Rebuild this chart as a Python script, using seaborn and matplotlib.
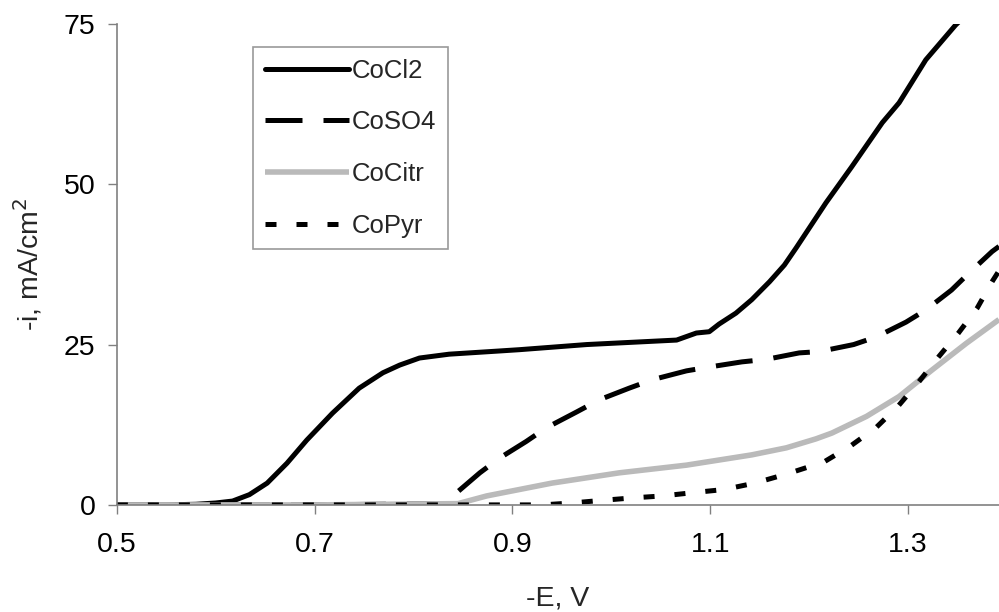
import matplotlib
matplotlib.use("Agg")
import matplotlib.pyplot as plt
import seaborn as sns
import pandas as pd

# Cathodic polarization curves for cobalt electrolytes
cocl2_E = [0.50, 0.55, 0.58, 0.60, 0.617, 0.634, 0.652, 0.672, 0.692, 0.718,
           0.745, 0.769, 0.786, 0.806, 0.836, 0.887, 0.907, 0.975, 1.066, 1.086,
           1.099, 1.109, 1.126, 1.142, 1.160, 1.175, 1.187, 1.217, 1.243, 1.274,
           1.291, 1.318, 1.348, 1.356]
cocl2_i = [0.0, 0.0, 0.1, 0.3, 0.6, 1.6, 3.4, 6.5, 10.1, 14.3,
           18.2, 20.6, 21.8, 22.9, 23.5, 24.0, 24.2, 25.0, 25.7, 26.8,
           27.0, 28.2, 29.9, 32.0, 34.8, 37.4, 40.1, 47.1, 52.7, 59.6,
           62.7, 69.4, 74.8, 76.0]

coso4_E = [0.50, 0.70, 0.835, 0.839, 0.867, 0.887, 0.914, 0.934, 0.965, 0.988,
           1.018, 1.041, 1.076, 1.099, 1.132, 1.157, 1.190, 1.210, 1.245, 1.268,
           1.298, 1.318, 1.344, 1.362, 1.385, 1.392]
coso4_i = [0.0, 0.0, 0.2, 1.3, 5.0, 7.3, 9.9, 12.0, 14.5, 16.4,
           18.2, 19.5, 20.9, 21.5, 22.3, 22.7, 23.7, 23.9, 25.0, 26.2,
           28.5, 30.4, 33.5, 36.2, 39.5, 40.3]

cocitr_E = [0.50, 0.70, 0.845, 0.874, 0.940, 1.008, 1.076, 1.142, 1.177, 1.207,
            1.223, 1.258, 1.291, 1.324, 1.359, 1.392]
cocitr_i = [0.0, 0.0, 0.2, 1.4, 3.4, 5.0, 6.2, 7.8, 8.9, 10.3,
            11.2, 13.8, 16.9, 21.0, 25.2, 28.9]

copyr_E = [0.50, 0.70, 0.93, 0.96, 0.99, 1.022, 1.052, 1.082, 1.114, 1.145,
           1.177, 1.215, 1.242, 1.268, 1.290, 1.311, 1.331, 1.351, 1.370, 1.385,
           1.392]
copyr_i = [0.0, 0.0, 0.0, 0.3, 0.7, 1.1, 1.4, 1.9, 2.4, 3.4,
           4.8, 6.7, 9.2, 12.1, 15.4, 19.2, 23.1, 26.8, 30.7, 34.8,
           36.5]

x_ticks = [0.5, 0.7, 0.9, 1.1, 1.3]
x_tick_labels = ["0.5", "0.7", "0.9", "1.1", "1.3"]
y_ticks = [0, 25, 50, 75]
y_tick_labels = ["0", "25", "50", "75"]

sns.set_theme(style="white")
plt.rcParams["font.family"] = ["Liberation Sans", "DejaVu Sans"]

fig = plt.figure(figsize=(9.99, 6.12), dpi=100)
ax = fig.add_axes([0.117, 0.175, 0.883, 0.786])

series = [
    ("CoCl2", cocl2_E, cocl2_i, dict(color="black", lw=3.6, linestyle="-",
                                     solid_capstyle="round")),
    ("CoSO4", coso4_E, coso4_i, dict(color="black", lw=3.6,
                                     linestyle=(0, (7.4, 4.2)), dash_capstyle="butt")),
    ("CoCitr", cocitr_E, cocitr_i, dict(color="#bababa", lw=4.0, linestyle="-",
                                        solid_capstyle="butt")),
    ("CoPyr", copyr_E, copyr_i, dict(color="black", lw=3.6,
                                     linestyle=(0, (2.2, 4.0)), dash_capstyle="butt")),
]

for name, xs, ys, kw in series:
    df = pd.DataFrame({"E": xs, "i": ys})
    sns.lineplot(data=df, x="E", y="i", ax=ax, label=name, estimator=None,
                 sort=False, clip_on=True, **kw)

ax.set_xlim(0.5, 1.392)
ax.set_ylim(0, 75)
ax.set_xticks(x_ticks)
ax.set_xticklabels(x_tick_labels)
ax.set_yticks(y_ticks)
ax.set_yticklabels(y_tick_labels)

for side in ("top", "right"):
    ax.spines[side].set_visible(False)
for side in ("left", "bottom"):
    ax.spines[side].set_color("#808080")
    ax.spines[side].set_linewidth(1.2)

ax.tick_params(axis="both", which="major", direction="out", length=6.5,
               width=1.0, color="#808080", labelsize=20.5, labelcolor="black")
ax.tick_params(axis="x", pad=13, bottom=True)
ax.tick_params(axis="y", pad=9, left=True)

ax.set_xlabel("-E, V", fontsize=20.5, labelpad=20)
ax.set_ylabel("-i, mA/cm$^2$", fontsize=20.5)
ax.yaxis.set_label_coords(-0.082, 0.5)

leg = ax.legend(loc="upper left", bbox_to_anchor=(253 / 999, 1 - 47 / 612),
                bbox_transform=fig.transFigure, fontsize=18.5, frameon=True,
                fancybox=False, handlelength=3.3, handletextpad=0.1,
                labelspacing=1.08, borderpad=0.45, borderaxespad=0.0)
leg.get_frame().set_edgecolor("#808080")
leg.get_frame().set_linewidth(1.2)
leg.get_frame().set_facecolor("white")

fig.savefig("out.png", dpi=100, facecolor="white")
